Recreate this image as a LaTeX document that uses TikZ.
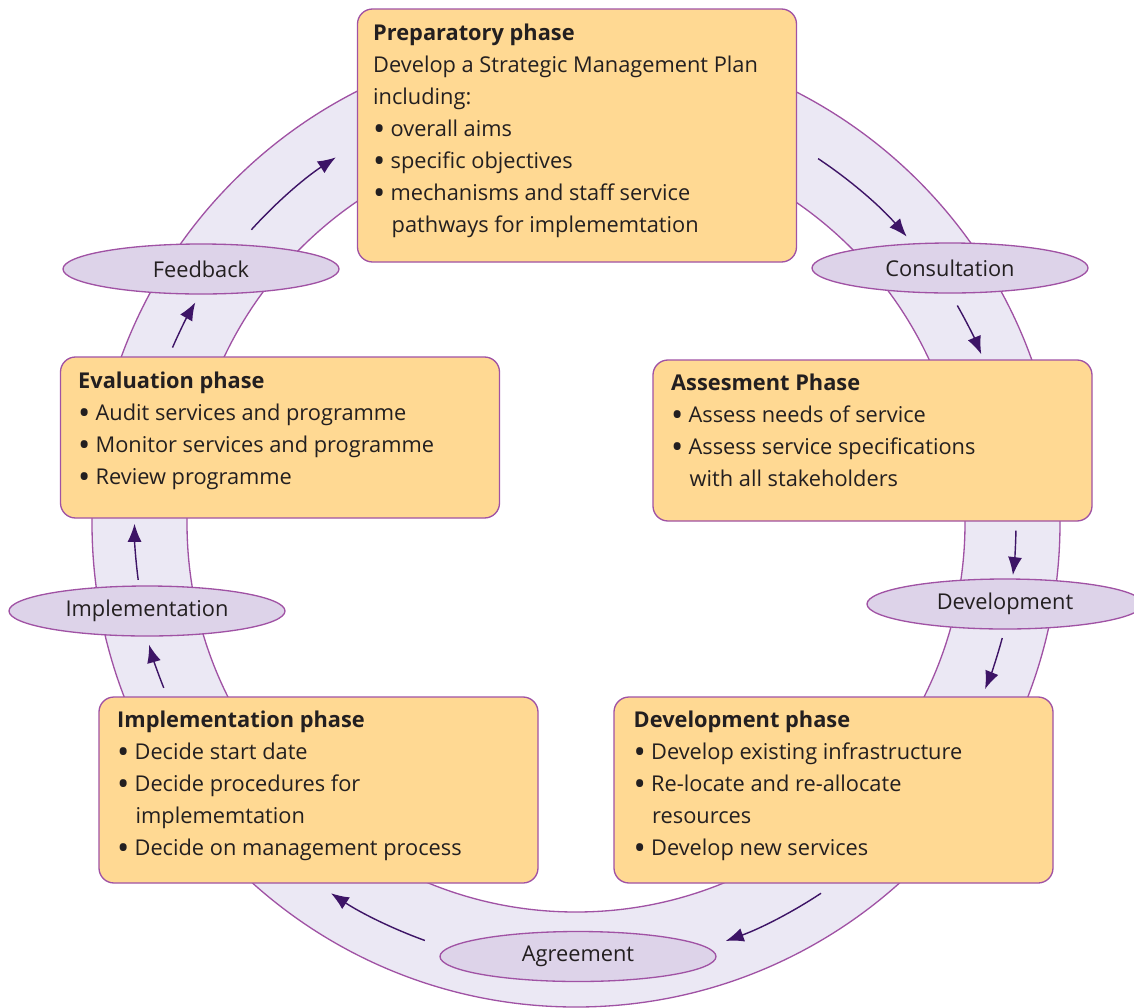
\documentclass[tikz,border=0pt]{standalone}
\usepackage{fontspec}
\setmainfont{Open Sans}
\usetikzlibrary{arrows.meta,shapes.geometric}

\definecolor{phasefill}{HTML}{FFD993}
\definecolor{phaseline}{HTML}{A052A4}
\definecolor{ringfill}{HTML}{EBE8F4}
\definecolor{ovalfill}{HTML}{DDD3E9}
\definecolor{flowpurple}{HTML}{3D1466}
\definecolor{inkgrey}{HTML}{231F20}

\newcommand{\phasetitle}[1]{\rule{0pt}{0.62cm}\textbf{#1}}
\newcommand{\bul}{\makebox[0.8em][l]{\raisebox{-0.17em}{\scalebox{1.5}{\textbullet}}}}
\newcommand{\cont}{\hspace{0.85em}}

\begin{document}
\begin{tikzpicture}[
    font=\fontsize{12.4}{18.2}\selectfont, text=inkgrey,
    phase box/.style={
        draw=phaseline, fill=phasefill, rounded corners=0.3cm,
        line width=0.75pt, minimum width=8.78cm, inner sep=0pt
    },
    phase text/.style={anchor=north west, align=left, inner sep=0pt},
    step oval/.style={
        ellipse, draw=phaseline, fill=ovalfill, line width=0.75pt,
        minimum width=5.52cm, minimum height=1cm, inner sep=0pt
    },
    flow arrow/.style={-{Latex[length=0.36cm,width=0.28cm]}, draw=flowpurple, line width=0.8pt}
]
    \useasboundingbox (0,0) rectangle (22.68,-20.14);
    \coordinate (hub) at (11.52,-10.46);

    % the ring
    \fill[ringfill, even odd rule] (hub) circle[radius=9.68] (hub) circle[radius=7.78];
    \draw[phaseline, line width=0.75pt] (hub) circle[radius=9.68];
    \draw[phaseline, line width=0.75pt] (hub) circle[radius=7.78];

    % arrows along the ring, clockwise
    \draw[flow arrow] ([shift={(156.5:8.8)}]hub) arc[start angle=156.5, end angle=149.9, radius=8.8];
    \draw[flow arrow] ([shift={(137.9:8.75)}]hub) arc[start angle=137.9, end angle=123.3, radius=8.75];
    \draw[flow arrow] ([shift={(56.4:8.75)}]hub) arc[start angle=56.4, end angle=40.9, radius=8.75];
    \draw[flow arrow] ([shift={(29.7:8.78)}]hub) arc[start angle=29.7, end angle=22.6, radius=8.78];
    \draw[flow arrow] ([shift={(-1.0:8.8)}]hub) arc[start angle=-1.0, end angle=-6.8, radius=8.8];
    \draw[flow arrow] ([shift={(-15.1:8.83)}]hub) arc[start angle=-15.1, end angle=-22.1, radius=8.83];
    \draw[flow arrow] ([shift={(-56.5:8.88)}]hub) arc[start angle=-56.5, end angle=-70.3, radius=8.88];
    \draw[flow arrow] ([shift={(-109.9:8.88)}]hub) arc[start angle=-109.9, end angle=-123.5, radius=8.88];
    \draw[flow arrow] ([shift={(-158.2:8.88)}]hub) arc[start angle=-158.2, end angle=-164.1, radius=8.88];
    \draw[flow arrow] ([shift={(-172.6:8.83)}]hub) arc[start angle=-172.6, end angle=-179.9, radius=8.83];

    % phases
    \node[phase box, minimum height=5.06cm] (prep) at (11.54,-2.71) {};
    \node[phase text] at ([shift={(0.32,-0.02)}]prep.north west)
        {\phasetitle{Preparatory phase}\\
         Develop a Strategic Management Plan\\
         including:\\
         \bul overall aims\\
         \bul specific objectives\\
         \bul mechanisms and staff service\\
         \cont pathways for implememtation};

    \node[phase box, minimum height=3.22cm] (assess) at (17.45,-8.81) {};
    \node[phase text] at ([shift={(0.37,0)}]assess.north west)
        {\phasetitle{Assesment Phase}\\
         \bul Assess needs of service\\
         \bul Assess service specifications\\
         \cont with all stakeholders};

    \node[phase box, minimum height=3.72cm] (devphase) at (16.67,-15.8) {};
    \node[phase text] at ([shift={(0.4,0)}]devphase.north west)
        {\phasetitle{Development phase}\\
         \bul Develop existing infrastructure\\
         \bul Re-locate and re-allocate\\
         \cont resources\\
         \bul Develop new services};

    \node[phase box, minimum height=3.72cm] (implphase) at (6.37,-15.8) {};
    \node[phase text] at ([shift={(0.37,0)}]implphase.north west)
        {\phasetitle{Implementation phase}\\
         \bul Decide start date\\
         \bul Decide procedures for\\
         \cont implememtation\\
         \bul Decide on management process};

    \node[phase box, minimum height=3.22cm] (evalphase) at (5.6,-8.75) {};
    \node[phase text] at ([shift={(0.36,-0.02)}]evalphase.north west)
        {\phasetitle{Evaluation phase}\\
         \bul Audit services and programme\\
         \bul Monitor services and programme\\
         \bul Review programme};

    % steps between the phases
    \node[step oval] (feedback) at (4.02,-5.38) {Feedback};
    \node[step oval] (consult) at (19.0,-5.36) {Consultation};
    \node[step oval] (develop) at (20.1,-12.08) {Development};
    \node[step oval] (agree) at (11.56,-19.13) {Agreement};
    \node[step oval] (implement) at (2.94,-12.22) {Implementation};

\end{tikzpicture}
\end{document}
